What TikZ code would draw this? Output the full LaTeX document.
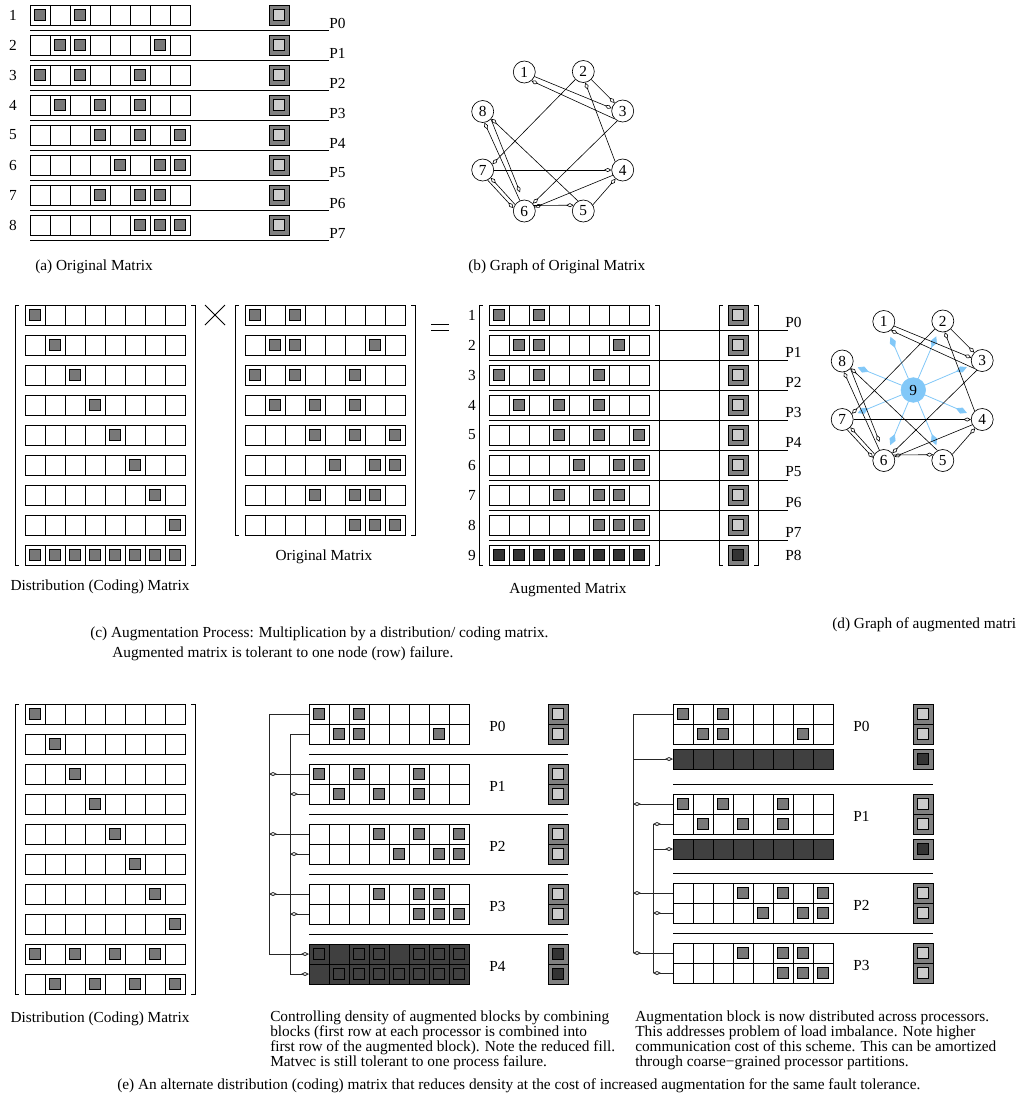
\documentclass[tikz,border=0pt]{standalone}
\usepackage{fontspec}
\setmainfont{Liberation Serif}
\usetikzlibrary{arrows.meta}
\definecolor{nzgray}{gray}{0.47}
\definecolor{vecout}{gray}{0.5}
\definecolor{vecin}{gray}{0.8}
\definecolor{darkfill}{gray}{0.25}
\definecolor{darknz}{gray}{0.2}
\definecolor{lblue}{RGB}{130,200,248}
\tikzset{
  cell/.style={draw=black, line width=0.5pt, fill=white},
  nzsq/.style={draw=black, line width=0.5pt, fill=nzgray},
  dnzw/.style={draw=black, line width=0.5pt, fill=darknz},
  dcell/.style={draw=black, line width=0.5pt, fill=darkfill},
  dnz/.style={draw=black, line width=0.5pt, fill=darkfill},
  vout/.style={draw=black, line width=0.5pt, fill=vecout},
  vinl/.style={draw=black, line width=0.5pt, fill=vecin},
  vind/.style={draw=black, line width=0.5pt, fill=darknz},
  sepline/.style={draw=black, line width=0.75pt},
  brk/.style={draw=black, line width=0.6pt},
  txt/.style={font=\fontsize{11.5}{13}\selectfont, inner sep=0pt},
  gnode/.style={circle, draw=black, line width=0.5pt, fill=white, minimum size=16.5pt, inner sep=0pt, font=\fontsize{11.5}{13}\selectfont},
  ninenode/.style={circle, draw=lblue, fill=lblue, minimum size=18.5pt, inner sep=0pt, font=\fontsize{11.5}{13}\selectfont},
  garr/.style={line width=0.45pt, -{Diamond[open,length=5.5pt,width=3pt]}},
  barr/.style={draw=lblue, line width=0.6pt, shorten >=4pt, -{Diamond[fill=lblue,length=9pt,width=4.8pt]}},
  conn/.style={draw=black!85, line width=0.6pt},
  carr/.style={draw=black!85, line width=0.6pt, -{Diamond[open,length=6pt,width=3pt]}}
}
\newcommand{\cellrowx}[4]{%
  \foreach \cc in {0,...,7}{\path[cell] ({#1+20*\cc},{#2}) rectangle ++(20,20);}
  \foreach \cc in {#3}{\path[#4] ({#1+20*\cc-15.5},{#2+4.5}) rectangle ++(11,11);}
}
\newcommand{\cellrow}[3]{\cellrowx{#1}{#2}{#3}{nzsq}}
\newcommand{\darkrow}[3]{%
  \foreach \cc in {0,...,7}{\path[dcell] ({#1+20*\cc},{#2}) rectangle ++(20,20);}
  \foreach \cc in {#3}{\path[dnz] ({#1+20*\cc-15.5},{#2+4.5}) rectangle ++(11,11);}
}
\newcommand{\darkrowplain}[2]{\foreach \cc in {0,...,7}{\path[dcell] ({#1+20*\cc},{#2}) rectangle ++(20,20);}}
\newcommand{\vecelem}[3]{\path[vout] ({#1},{#2}) rectangle ++(20,20); \path[#3] ({#1+4.5},{#2+4.5}) rectangle ++(11,11);}
\newcommand{\matbrack}[4]{%
  \draw[brk] ({#1+4},{#3}) -- ({#1},{#3}) -- ({#1},{#4}) -- ({#1+4},{#4});
  \draw[brk] ({#2-4},{#3}) -- ({#2},{#3}) -- ({#2},{#4}) -- ({#2-4},{#4});
}
\newcommand{\graphnodes}[1]{%
  \node[gnode] (#11) at (524.3,72) {1};
  \node[gnode] (#12) at (583.3,71.5) {2};
  \node[gnode] (#13) at (622.7,111) {3};
  \node[gnode] (#14) at (622.7,170) {4};
  \node[gnode] (#15) at (583.3,211) {5};
  \node[gnode] (#16) at (524.3,211) {6};
  \node[gnode] (#17) at (482.7,170) {7};
  \node[gnode] (#18) at (482.7,111.5) {8};
}
\newcommand{\graphedges}[1]{%
  \draw[garr] (#11.-24) -- (#13.166);
  \draw[garr] (#13.224) -- (#11.-51);
  \draw[garr] (#12.-45) -- (#13.135);
  \draw[garr] (#14.132) -- (#12.-80);
  \draw[garr] (#12.-135) -- (#17.31);
  \draw[garr] (#13.-119) -- (#16.41);
  \draw[garr] (#17.0) -- (#14.180);
  \draw[garr] (#14.-152) -- (#16.19);
  \draw[garr] (#15.33) -- (#14.-129);
  \draw[garr] (#16.29) -- (#15.149);
  \draw[garr] (#16.145) -- (#17.-44);
  \draw[garr] (#17.-64) -- (#16.165);
  \draw[garr] (#16.113) -- (#18.-81);
  \draw[garr, shorten >=6pt] (#18.-43) -- (#16.97);
  \draw[garr] (#15.118) -- (#18.-40);
}
\begin{document}
\begin{tikzpicture}[x=0.75pt,y=-0.75pt]
\useasboundingbox (0,0) rectangle (1016,1107);
\fill[white] (0,0) rectangle (1016,1107);

% ---------------- (a) ----------------
\cellrow{30}{5}{1,3}
\cellrow{30}{35}{2,3,7}
\cellrow{30}{65}{1,3,6}
\cellrow{30}{95}{2,4,6}
\cellrow{30}{125}{4,6,8}
\cellrow{30}{155}{5,7,8}
\cellrow{30}{185}{4,6,7}
\cellrow{30}{215}{6,7,8}
\foreach \i [evaluate=\i as \j using int(\i-1)] in {1,...,8}{
  \node[txt] (an\i) at (13,{30*\i-15}) {\i};
  \vecelem{269}{30*\i-25}{vinl}
  \draw[sepline] (30,{30*\i+0.5}) -- (329,{30*\i+0.5});
  \node[txt, anchor=west] (ap\i) at (329,{30*\i-7}) {P\j};
}
\node[txt, anchor=base west] (capa) at (35,270) {(a) Original Matrix};

% ---------------- (b) ----------------
\graphnodes{b}
\graphedges{b}
\node[txt, anchor=base west] (capb) at (468,270) {(b) Graph of Original Matrix};

% ---------------- (c) ----------------
\foreach \i in {1,...,8}{\cellrow{25}{275+30*\i}{\i}}
\cellrow{25}{545}{1,2,3,4,5,6,7,8}
\matbrack{15}{195}{305}{565}
\draw[line width=0.6pt] (205,305) -- (225,325);
\draw[line width=0.6pt] (205,325) -- (225,305);
\cellrow{245}{305}{1,3}
\cellrow{245}{335}{2,3,7}
\cellrow{245}{365}{1,3,6}
\cellrow{245}{395}{2,4,6}
\cellrow{245}{425}{4,6,8}
\cellrow{245}{455}{5,7,8}
\cellrow{245}{485}{4,6,7}
\cellrow{245}{515}{6,7,8}
\matbrack{235}{415}{305}{535}
\draw[line width=0.6pt] (431,324) -- (449,324);
\draw[line width=0.6pt] (431,330) -- (449,330);
\cellrow{489}{305}{1,3}
\cellrow{489}{335}{2,3,7}
\cellrow{489}{365}{1,3,6}
\cellrow{489}{395}{2,4,6}
\cellrow{489}{425}{4,6,8}
\cellrow{489}{455}{5,7,8}
\cellrow{489}{485}{4,6,7}
\cellrow{489}{515}{6,7,8}
\cellrowx{489}{545}{1,2,3,4,5,6,7,8}{dnzw}
\matbrack{479}{659}{305}{565}
\matbrack{719}{758}{305}{565}
\foreach \i in {1,...,9}{
  \node[txt] (cn\i) at (472,{285+30*\i}) {\i};
}
\foreach \i [evaluate=\i as \j using int(\i-1)] in {1,...,8}{
  \vecelem{728}{275+30*\i}{vinl}
  \draw[sepline] (489,{300+30*\i}) -- (788,{300+30*\i});
  \node[txt, anchor=west] (cp\i) at (785,{292+30*\i}) {P\j};
}
\vecelem{728}{545}{vind}
\node[txt, anchor=west] (cp9) at (785,555) {P8};
\node[txt] (distc) at (100,587) {Distribution (Coding) Matrix};
\node[txt] (origc) at (324,557) {Original Matrix};
\node[txt] (augc) at (568,590) {Augmented Matrix};
\node[txt, anchor=base west] (capc1) at (90,637) {(c) Augmentation Process: Multiplication by a distribution/ coding matrix.};
\node[txt, anchor=base west] (capc2) at (112,657) {Augmented matrix is tolerant to one node (row) failure.};

% ---------------- (d) ----------------
\begin{scope}[shift={(359.5,249.5)}]
\graphnodes{d}
\node[ninenode] (d9) at (553.8,140.5) {9};
\foreach \k in {1,...,8}{\draw[barr] (d9) -- (d\k);}
\graphedges{d}
\end{scope}
\begin{scope}
\clip (0,0) rectangle (1016,1107);
\node[txt, anchor=base west] (capd) at (832,628) {(d) Graph of augmented matrix};
\end{scope}

% ---------------- (e) left ----------------
\foreach \i in {1,...,8}{\cellrow{25}{674+30*\i}{\i}}
\cellrow{25}{944}{1,3,5,7}
\cellrow{25}{974}{2,4,6,8}
\matbrack{15}{195}{704}{994}
\node[txt] (diste) at (100,1019) {Distribution (Coding) Matrix};

% ---------------- (e) middle ----------------
\cellrow{309}{704}{1,3}
\cellrow{309}{724}{2,3,7}
\cellrow{309}{764}{1,3,6}
\cellrow{309}{784}{2,4,6}
\cellrow{309}{824}{4,6,8}
\cellrow{309}{844}{5,7,8}
\cellrow{309}{884}{4,6,7}
\cellrow{309}{904}{6,7,8}
\darkrow{309}{944}{1,3,4,6,7,8}
\darkrow{309}{964}{2,3,4,5,6,7,8}
\foreach \k in {0,...,3}{
  \draw[sepline] (309,{754+60*\k}) -- (568,{754+60*\k});
  \vecelem{548}{704+60*\k}{vinl}
  \vecelem{548}{724+60*\k}{vinl}
}
\vecelem{548}{944}{vind}
\vecelem{548}{964}{vind}
\foreach \k in {0,...,4}{\node[txt, anchor=west] (mp\k) at (489,{726+60*\k}) {P\k};}
% connectors
\draw[conn] (309,714) -- (269,714) -- (269,954);
\draw[carr] (269,954) -- (309,954);
\draw[conn] (309,734) -- (290,734) -- (290,974);
\draw[carr] (290,974) -- (309,974);
\foreach \k in {1,2,3}{
  \draw[carr] (309,{714+60*\k}) -- (269,{714+60*\k});
  \draw[carr] (309,{734+60*\k}) -- (290,{734+60*\k});
}

% ---------------- (e) right ----------------
\cellrow{673}{704}{1,3}
\cellrow{673}{724}{2,3,7}
\darkrowplain{673}{749}
\cellrow{673}{794}{1,3,6}
\cellrow{673}{814}{2,4,6}
\darkrowplain{673}{839}
\cellrow{673}{883}{4,6,8}
\cellrow{673}{903}{5,7,8}
\cellrow{673}{943}{4,6,7}
\cellrow{673}{963}{6,7,8}
\foreach \y in {784,873,933}{\draw[sepline] (673,\y) -- (933,\y);}
\foreach \y in {704,724,794,814,883,903,943,963}{\vecelem{913}{\y}{vinl}}
\vecelem{913}{749}{vind}
\vecelem{913}{839}{vind}
\node[txt, anchor=west] (rp0) at (853,726) {P0};
\node[txt, anchor=west] (rp1) at (853,816) {P1};
\node[txt, anchor=west] (rp2) at (853,905) {P2};
\node[txt, anchor=west] (rp3) at (853,965) {P3};
\draw[conn] (673,714) -- (633,714) -- (633,953);
\draw[carr] (633,759) -- (673,759);
\draw[carr] (673,804) -- (633,804);
\draw[carr] (673,893) -- (633,893);
\draw[carr] (673,953) -- (633,953);
\draw[conn] (653,824) -- (653,973);
\draw[carr] (673,824) -- (653,824);
\draw[carr] (653,849) -- (673,849);
\draw[carr] (673,913) -- (653,913);
\draw[carr] (673,973) -- (653,973);

% ---------------- (e) captions ----------------
\node[txt, anchor=base west] (cm1) at (270,1021) {Controlling density of augmented blocks by combining};
\node[txt, anchor=base west] (cm2) at (270,1036) {blocks (first row at each processor is combined into};
\node[txt, anchor=base west] (cm3) at (270,1051) {first row of the augmented block). Note the reduced fill.};
\node[txt, anchor=base west] (cm4) at (270,1066) {Matvec is still tolerant to one process failure.};
\node[txt, anchor=base west] (cr1) at (635,1021) {Augmentation block is now distributed across processors.};
\node[txt, anchor=base west] (cr2) at (635,1036) {This addresses problem of load imbalance. Note higher};
\node[txt, anchor=base west] (cr3) at (635,1051) {communication cost of this scheme. This can be amortized};
\node[txt, anchor=base west] (cr4) at (635,1066) {through coarse−grained processor partitions.};
\node[txt, anchor=base west] (cape) at (117,1089) {(e) An alternate distribution (coding) matrix that reduces density at the cost of increased augmentation for the same fault tolerance.};
\end{tikzpicture}
\end{document}
